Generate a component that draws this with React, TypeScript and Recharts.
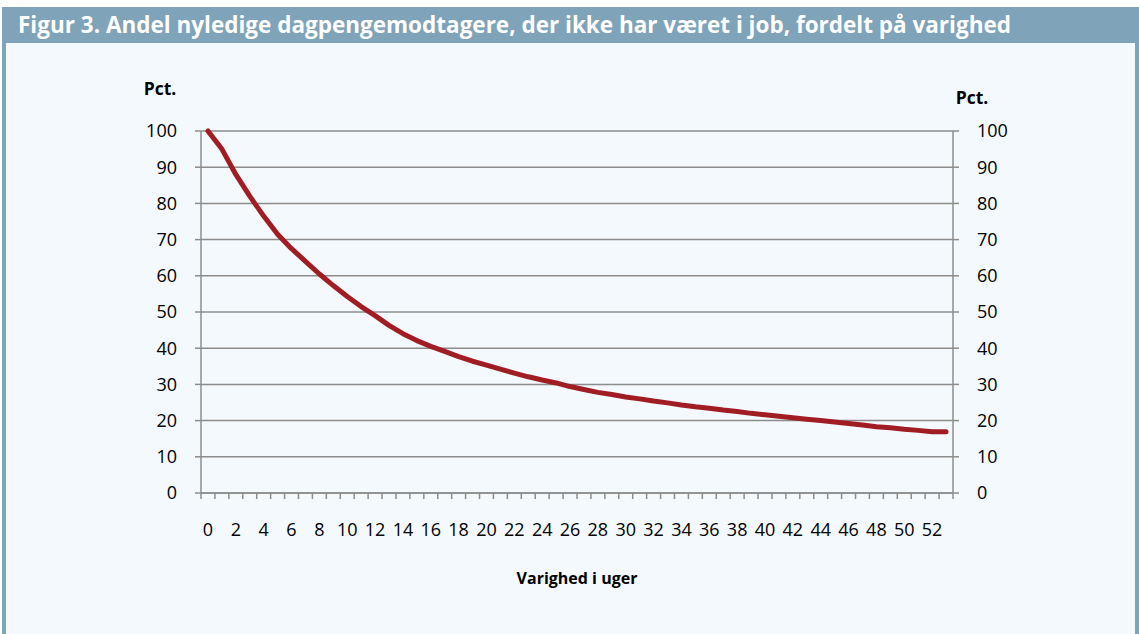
import { CartesianGrid, Line, LineChart, XAxis, YAxis } from "recharts";

const weeks: number[] = [
  0, 1, 2, 3, 4, 5, 6, 7, 8, 9, 10, 11, 12, 13, 14, 15, 16, 17, 18, 19, 20, 21, 22, 23, 24, 25, 26,
  27, 28, 29, 30, 31, 32, 33, 34, 35, 36, 37, 38, 39, 40, 41, 42, 43, 44, 45, 46, 47, 48, 49, 50,
  51, 52, 53,
];

const andel: number[] = [
  100, 95, 88, 82, 76.5, 71.5, 67.5, 64, 60.5, 57.3, 54.3, 51.5, 49, 46.3, 44, 42.1, 40.5, 39.1,
  37.7, 36.4, 35.3, 34.2, 33.1, 32.1, 31.2, 30.4, 29.4, 28.6, 27.8, 27.2, 26.5, 26, 25.4, 24.9,
  24.3, 23.8, 23.4, 22.9, 22.5, 22, 21.6, 21.2, 20.8, 20.4, 20, 19.6, 19.2, 18.8, 18.3, 18, 17.6,
  17.3, 16.9, 16.9,
];

const yTicks: number[] = [0, 10, 20, 30, 40, 50, 60, 70, 80, 90, 100];
const xLabelTicks: number[] = weeks.filter((w) => w % 2 === 0 && w <= 52);
const xMarkTicks: number[] = [...weeks.map((w) => w - 0.5), weeks.length - 0.5];

const data = weeks.map((w, i) => ({ week: w, andel: andel[i] }));

const FONT = "'Open Sans', Lato, sans-serif";
const GRID = "#8c8c8c";
const LINE = "#a11d24";
const TICK_FONT = 18;

const noLabel = () => <g />;

export default function App() {
  const boldLabel = {
    position: "absolute" as const,
    fontWeight: 700,
    fontSize: 17.5,
    lineHeight: "20px",
    color: "#000",
    textAlign: "center" as const,
    whiteSpace: "nowrap" as const,
  };
  return (
    <div
      style={{
        position: "absolute",
        left: 0,
        top: 0,
        width: 1139,
        height: 634,
        background: "#ffffff",
        fontFamily: FONT,
        overflow: "hidden",
      }}
    >
      <div
        style={{
          position: "absolute",
          left: 2,
          top: 7,
          width: 1137,
          height: 627,
          boxSizing: "border-box",
          borderLeft: "4px solid #7fa3b8",
          borderRight: "4px solid #7fa3b8",
          background: "#f4f9fd",
        }}
      />
      <div
        style={{
          position: "absolute",
          left: 2,
          top: 7,
          width: 1137,
          height: 36,
          background: "#7fa3b8",
          color: "#ffffff",
          fontWeight: 700,
          fontSize: 22.5,
          lineHeight: "35px",
          paddingLeft: 16,
          boxSizing: "border-box",
          whiteSpace: "nowrap",
        }}
      >
        Figur 3. Andel nyledige dagpengemodtagere, der ikke har været i job, fordelt på varighed
      </div>
      <div style={{ ...boldLabel, left: 130, top: 78, width: 60 }}>Pct.</div>
      <div style={{ ...boldLabel, left: 942, top: 87, width: 60 }}>Pct.</div>
      <div style={{ ...boldLabel, fontSize: 16, left: 477, top: 568, width: 200 }}>
        Varighed i uger
      </div>
      <div style={{ position: "absolute", left: 0, top: 0 }}>
        <LineChart
          width={1139}
          height={634}
          data={data}
          margin={{ top: 131, right: 126, bottom: 141 - 8 - 40, left: 141 }}
        >
          <CartesianGrid
            horizontal
            vertical={false}
            stroke={GRID}
            strokeWidth={1.5}
            yAxisId="left"
            xAxisId="xa"
          />
          <XAxis
            xAxisId="xa"
            dataKey="week"
            type="number"
            domain={[-0.5, 53.5]}
            ticks={xMarkTicks}
            interval={0}
            tick={noLabel}
            tickSize={6}
            height={8}
            axisLine={{ stroke: GRID, strokeWidth: 1.5 }}
            tickLine={{ stroke: GRID, strokeWidth: 1.5 }}
          />
          <XAxis
            xAxisId="xb"
            dataKey="week"
            type="number"
            domain={[-0.5, 53.5]}
            ticks={xLabelTicks}
            interval={0}
            tickSize={0}
            tickMargin={22}
            height={40}
            axisLine={false}
            tickLine={false}
            tick={{ fill: "#000", fontSize: TICK_FONT, fontFamily: FONT }}
          />
          <YAxis
            yAxisId="left"
            orientation="left"
            domain={[0, 100]}
            ticks={yTicks}
            interval={0}
            width={60}
            tickSize={6}
            tickMargin={18}
            axisLine={{ stroke: GRID, strokeWidth: 1.5 }}
            tickLine={{ stroke: GRID, strokeWidth: 1.5 }}
            tick={{ fill: "#000", fontSize: TICK_FONT, fontFamily: FONT }}
          />
          <YAxis
            yAxisId="right"
            orientation="right"
            domain={[0, 100]}
            ticks={yTicks}
            interval={0}
            width={60}
            tickSize={6}
            tickMargin={18}
            axisLine={{ stroke: GRID, strokeWidth: 1.5 }}
            tickLine={{ stroke: GRID, strokeWidth: 1.5 }}
            tick={{ fill: "#000", fontSize: TICK_FONT, fontFamily: FONT }}
          />
          {/* same series on the right/tick-mark axes so both axes get a domain */}
          <Line
            xAxisId="xa"
            yAxisId="right"
            type="linear"
            dataKey="andel"
            stroke="none"
            dot={false}
            activeDot={false}
            legendType="none"
            isAnimationActive={false}
          />
          <Line
            xAxisId="xb"
            yAxisId="left"
            type="linear"
            dataKey="andel"
            stroke={LINE}
            strokeWidth={5}
            strokeLinecap="round"
            strokeLinejoin="round"
            dot={false}
            activeDot={false}
            isAnimationActive={false}
          />
        </LineChart>
      </div>
    </div>
  );
}
